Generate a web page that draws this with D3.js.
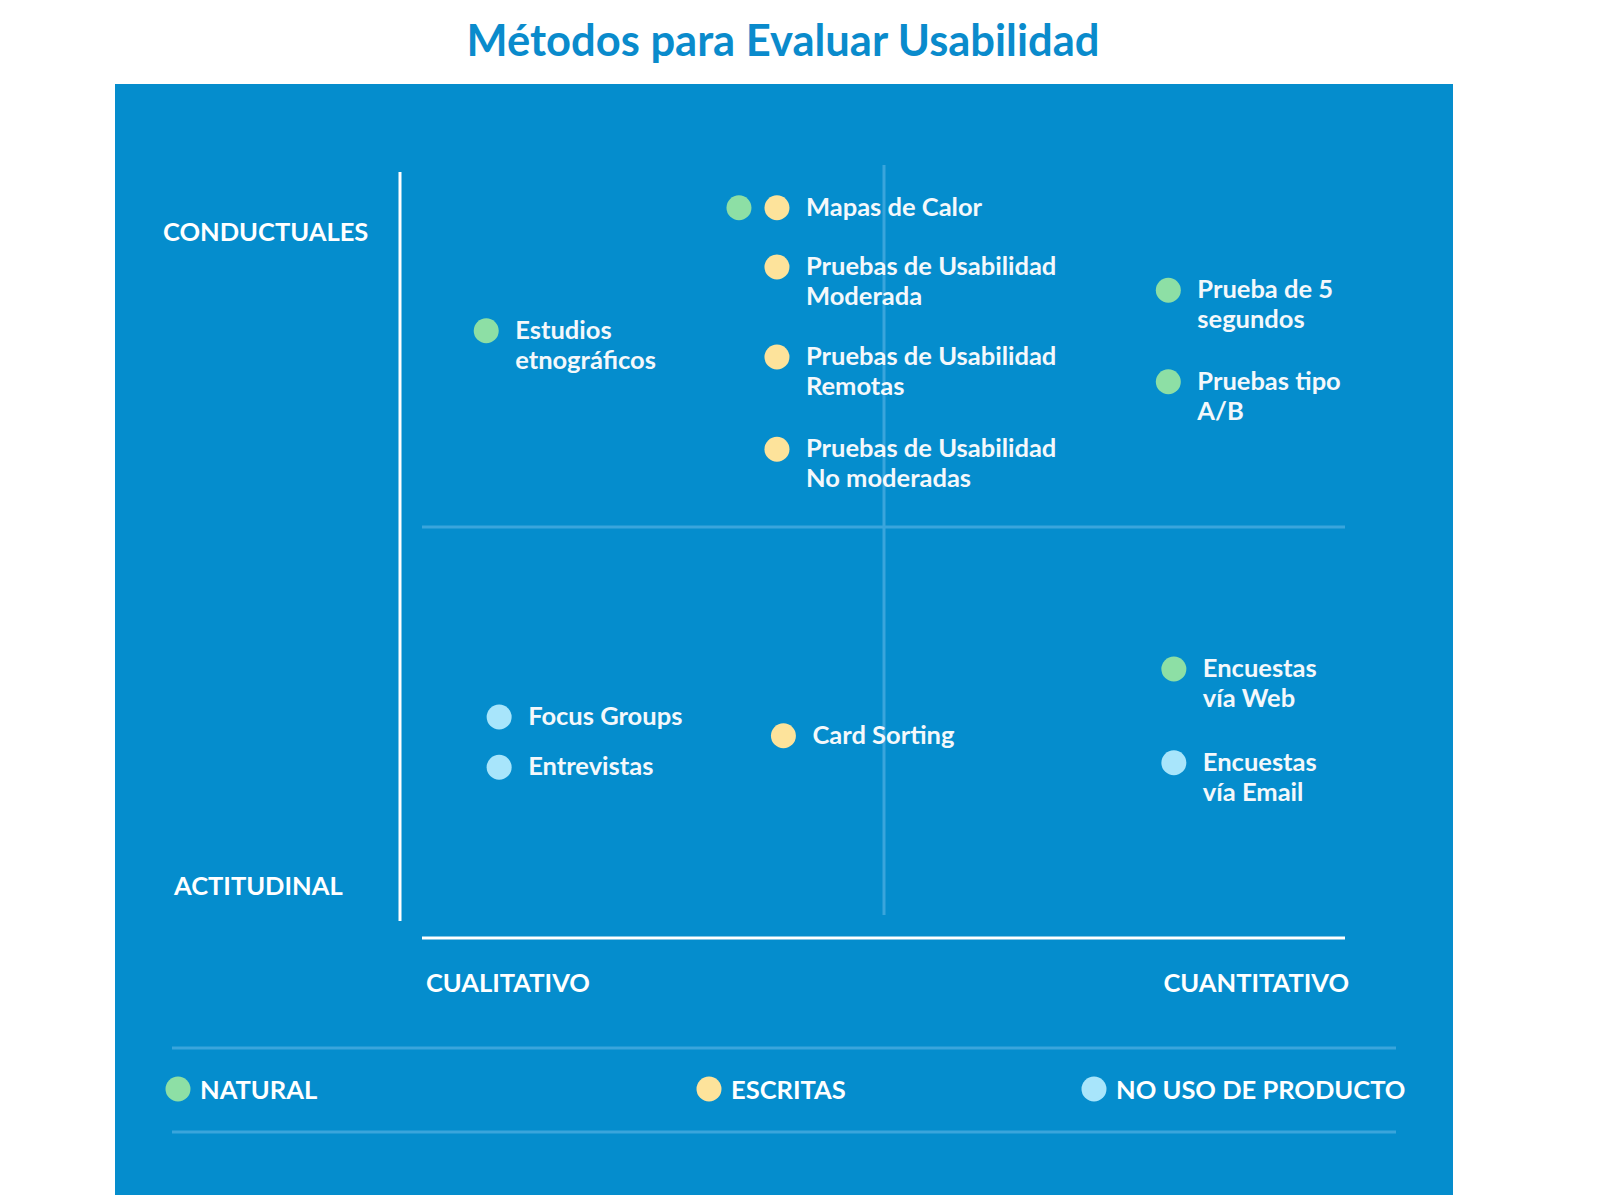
<!DOCTYPE html>
<html><head><meta charset="utf-8">
<script src="https://cdn.jsdelivr.net/npm/d3@7"></script>
<style>body{margin:0;background:#fff}text{font-family:Lato,"Open Sans",sans-serif;font-weight:700}</style>
</head><body><svg id="c" width="1600" height="1195"></svg>
<script>
const colorNames = ["natural","escritas","noUso"];
const colorValues = ["#8ddfa5","#fde39b","#a8e5fb"];
const legendLabels = ["NATURAL","ESCRITAS","NO USO DE PRODUCTO"];
const methodLabels = [
  ["Mapas de Calor"],
  ["Pruebas de Usabilidad","Moderada"],
  ["Pruebas de Usabilidad","Remotas"],
  ["Pruebas de Usabilidad","No moderadas"],
  ["Estudios","etnográficos"],
  ["Prueba de 5","segundos"],
  ["Pruebas tipo","A/B"],
  ["Encuestas","vía Web"],
  ["Encuestas","vía Email"],
  ["Focus Groups"],
  ["Entrevistas"],
  ["Card Sorting"]
];
const methodX = [41.6,41.6,41.6,41.6,10.1,84.0,84.0,84.6,84.6,11.5,11.5,42.3];
const methodY = [95.1,87.2,75.2,62.9,78.7,84.1,71.9,33.6,21.1,27.2,20.5,24.7];
const methodTypes = [["natural","escritas"],["escritas"],["escritas"],["escritas"],["natural"],["natural"],["natural"],["natural"],["noUso"],["noUso"],["noUso"],["escritas"]];
const axisLabels = {top:"CONDUCTUALES",bottom:"ACTITUDINAL",left:"CUALITATIVO",right:"CUANTITATIVO"};

const svg = d3.select("#c");
const color = d3.scaleOrdinal(colorNames, colorValues);
const x = d3.scaleLinear([0,100],[422,1345]);
const y = d3.scaleLinear([0,100],[920,170]);
const FS = 25.5;

svg.append("text").attr("x",783).attr("y",56).attr("text-anchor","middle").attr("fill","#0a8bcc").attr("font-size",43.5).text("Métodos para Evaluar Usabilidad");
svg.append("rect").attr("x",115).attr("y",84).attr("width",1338).attr("height",1111).attr("fill","#058dcd");

const light="#3aa5dc";
svg.append("line").attr("x1",x(0)).attr("x2",x(100)).attr("y1",527).attr("y2",527).attr("stroke",light).attr("stroke-width",3);
svg.append("line").attr("x1",884).attr("x2",884).attr("y1",165).attr("y2",915).attr("stroke",light).attr("stroke-width",3);
svg.append("line").attr("x1",400).attr("x2",400).attr("y1",172).attr("y2",921).attr("stroke","#fff").attr("stroke-width",3);
svg.append("line").attr("x1",x(0)).attr("x2",x(100)).attr("y1",938).attr("y2",938).attr("stroke","#fff").attr("stroke-width",3);
[1048,1132].forEach(v=>svg.append("line").attr("x1",172).attr("x2",1396).attr("y1",v).attr("y2",v).attr("stroke",light).attr("stroke-width",3));

const al = (t,xx,yy,a)=>svg.append("text").attr("x",xx).attr("y",yy).attr("text-anchor",a||"start").attr("fill","#fff").attr("font-size",FS).text(t);
al(axisLabels.top,163,241); al(axisLabels.bottom,174,895);
al(axisLabels.left,426,992); al(axisLabels.right,1349,992,"end");

const g = svg.append("g");
methodLabels.forEach((lines,i)=>{
  const lx=x(methodX[i]), ly=y(methodY[i]);
  const types=methodTypes[i];
  types.forEach((t,j)=>{
    g.append("circle").attr("cx",lx-29-(types.length-1-j)*38).attr("cy",ly+1).attr("r",12.5).attr("fill",color(t));
  });
  const tx=g.append("text").attr("x",lx).attr("y",ly+9).attr("fill","#f4f8fb").attr("font-size",FS);
  lines.forEach((l,k)=>tx.append("tspan").attr("x",lx).attr("dy",k?30:0).text(l));
});

const legX=[178,709,1094];
legendLabels.forEach((l,i)=>{
  svg.append("circle").attr("cx",legX[i]).attr("cy",1089).attr("r",12.5).attr("fill",colorValues[i]);
  svg.append("text").attr("x",legX[i]+22).attr("y",1099).attr("fill","#fff").attr("font-size",FS).text(l);
});
</script></body></html>
